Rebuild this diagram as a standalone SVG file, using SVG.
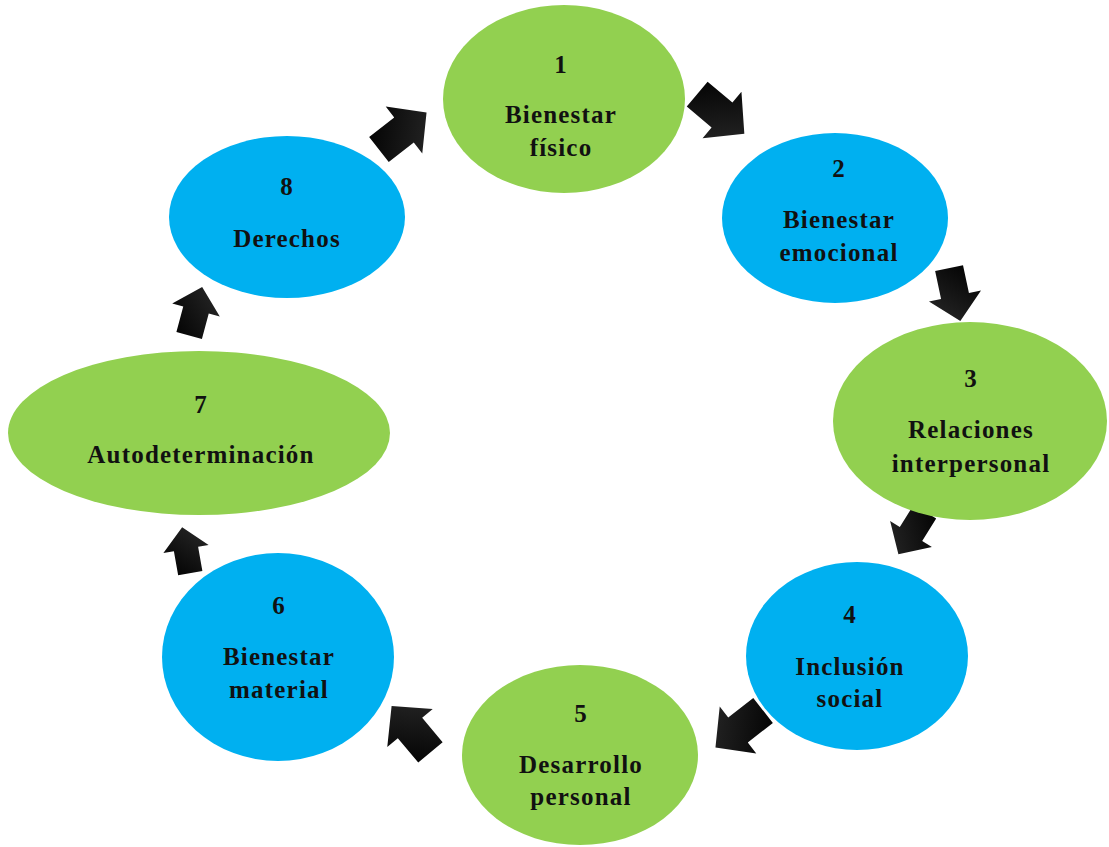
<svg xmlns="http://www.w3.org/2000/svg" width="1109" height="847" viewBox="0 0 1109 847">
<style>
.g{fill:#92D050}
.b{fill:#00B0F0}
text{font-family:"Liberation Serif","Times New Roman",serif;font-weight:bold;font-size:25px;letter-spacing:1.2px;fill:#111;text-anchor:middle}
.arr{fill:url(#ag)}
</style>
<defs>
<linearGradient id="ag" x1="0" y1="0" x2="1" y2="1">
<stop offset="0" stop-color="#000"/>
<stop offset="1" stop-color="#2a2a2a"/>
</linearGradient>
<path id="a" d="M-30,-15 L0,-15 L0,-28 L27,0 L0,28 L0,15 L-30,15 Z"/>
</defs>
<rect width="1109" height="847" fill="#fff"/>
<g id="connectors">
<use href="#a" class="arr" transform="translate(722,115) rotate(40) scale(1.08)"/>
<use href="#a" class="arr" transform="translate(955,296) rotate(78) scale(0.95)"/>
<use href="#a" class="arr" transform="translate(911,534) rotate(122) scale(0.88)"/>
<use href="#a" class="arr" transform="translate(738,730) rotate(142) scale(1.06)"/>
<use href="#a" class="arr" transform="translate(410,728) rotate(-130) scale(1.06)"/>
<use href="#a" class="arr" transform="translate(186,549) rotate(-100) scale(0.82)"/>
<use href="#a" class="arr" transform="translate(196,310) rotate(-75) scale(0.88)"/>
<use href="#a" class="arr" transform="translate(404,130) rotate(-38) scale(1.06)"/>
</g>
<g id="n1"><ellipse class="g" cx="564" cy="99" rx="121" ry="94"/>
<text x="561" y="73">1</text><text x="561" y="123">Bienestar</text><text x="561" y="156">físico</text></g>
<g id="n2"><ellipse class="b" cx="835" cy="218" rx="113" ry="85"/>
<text x="839" y="177">2</text><text x="839" y="228">Bienestar</text><text x="839" y="261">emocional</text></g>
<g id="n3"><ellipse class="g" cx="970" cy="421" rx="137" ry="99"/>
<text x="971" y="387">3</text><text x="971" y="438">Relaciones</text><text x="971" y="472">interpersonal</text></g>
<g id="n4"><ellipse class="b" cx="857" cy="656" rx="111" ry="94"/>
<text x="850" y="623">4</text><text x="850" y="675">Inclusión</text><text x="850" y="707">social</text></g>
<g id="n5"><ellipse class="g" cx="580" cy="755" rx="118" ry="90"/>
<text x="581" y="722">5</text><text x="581" y="773">Desarrollo</text><text x="581" y="805">personal</text></g>
<g id="n6"><ellipse class="b" cx="278" cy="657" rx="116" ry="104"/>
<text x="279" y="614">6</text><text x="279" y="665">Bienestar</text><text x="279" y="698">material</text></g>
<g id="n7"><ellipse class="g" cx="199" cy="433" rx="191" ry="82"/>
<text x="201" y="413">7</text><text x="201" y="463">Autodeterminación</text></g>
<g id="n8"><ellipse class="b" cx="287" cy="217" rx="118" ry="81"/>
<text x="287" y="195">8</text><text x="287" y="247">Derechos</text></g>
</svg>
